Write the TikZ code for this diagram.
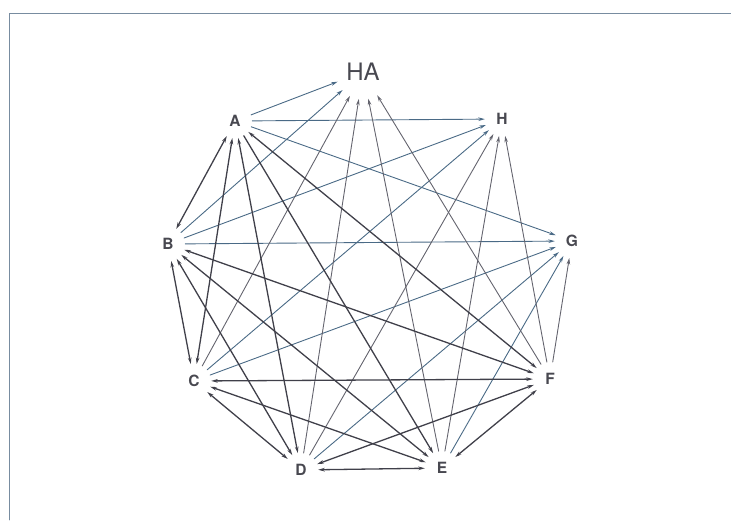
\documentclass[tikz,border=0pt]{standalone}
\usepackage{fontspec}
\setmainfont{TeX Gyre Heros}
\usetikzlibrary{arrows.meta}
\definecolor{linkblue}{RGB}{74,106,134}
\definecolor{linkgray}{RGB}{64,64,74}
\definecolor{lightgray}{RGB}{100,100,110}
\definecolor{labelgray}{RGB}{72,72,80}
\definecolor{framecol}{RGB}{120,140,160}
\begin{document}
\begin{tikzpicture}[x=1pt, y=-1pt, line join=round, line cap=round, >={Stealth[length=6.5pt,width=3.6pt]},
  vertex/.style={circle, minimum size=34pt, inner sep=0pt, text=labelgray, font=\fontsize{15.5}{15.5}\selectfont\bfseries},
  apex/.style={circle, minimum size=54pt, inner sep=0pt, text=labelgray, font=\fontsize{24}{24}\selectfont},
  bluelink/.style={linkblue, line width=0.9pt},
  greylink/.style={lightgray, line width=0.9pt},
  graylink/.style={linkgray, line width=1.3pt}]
  \useasboundingbox (0,0) rectangle (731,520);
  % frame
  \draw[framecol, line width=0.8pt] (9,520) -- (9,13) -- (731,13);
  % nodes
  \node[apex] (HA) at (363,72) {HA};
  \node[vertex] (A) at (235,121) {A};
  \node[vertex] (H) at (502,119) {H};
  \node[vertex] (B) at (168,244) {B};
  \node[vertex] (G) at (572,241) {G};
  \node[vertex] (C) at (194,381) {C};
  \node[vertex] (F) at (550,379) {F};
  \node[vertex] (D) at (301,470) {D};
  \node[vertex] (E) at (442,468) {E};
  % arrows into HA, H and G
  \foreach \s/\t in {A/HA,B/HA,A/H,B/H,C/H,A/G,B/G,C/G,D/G,E/G}
    \draw[bluelink,->] (\s) -- (\t);
  \foreach \s/\t in {C/HA,D/HA,E/HA,F/HA,D/H,E/H,F/H,F/G}
    \draw[greylink,->] (\s) -- (\t);
  % arrows among A to F
  \draw[graylink,->] (A) -- (E);
  \foreach \s/\t in {A/B,A/C,A/D,A/F,B/C,B/D,B/E,B/F,C/D,C/E,C/F,D/E,D/F,E/F}
    \draw[graylink,<->] (\s) -- (\t);
\end{tikzpicture}
\end{document}
